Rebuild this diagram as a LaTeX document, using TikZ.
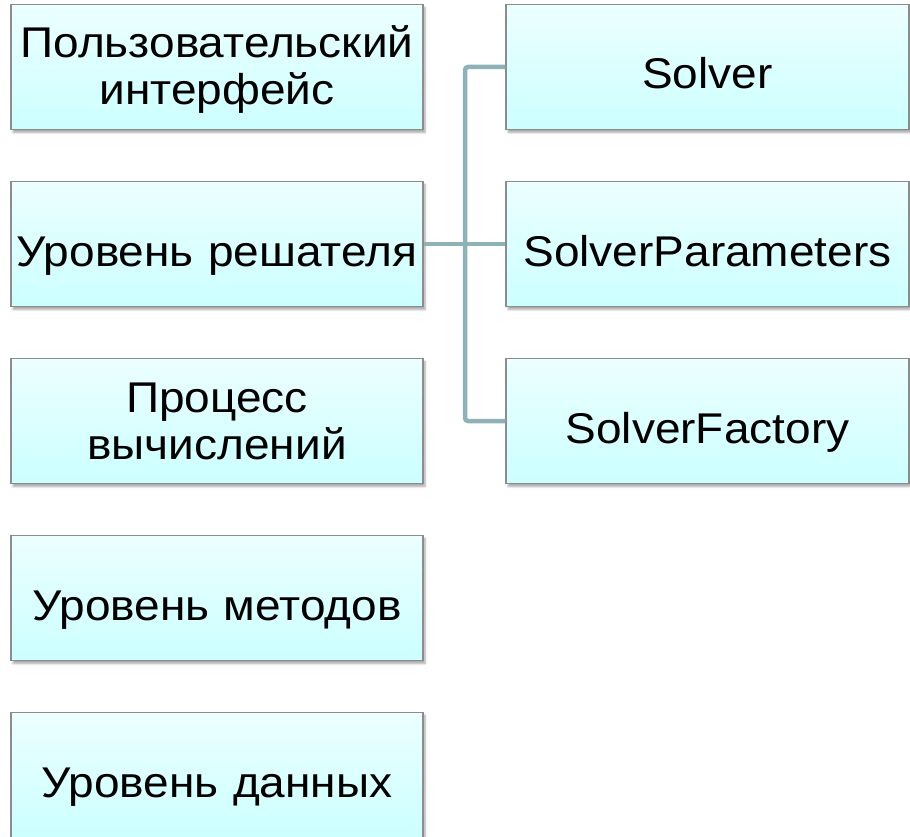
\documentclass[tikz,border=0pt]{standalone}
\usepackage{fontspec}
\setmainfont{Liberation Sans}
\newfontfamily\boxfont{Liberation Sans}[FakeStretch=1.07]
\usetikzlibrary{shadows.blur}
\definecolor{boxtop}{HTML}{ECFFFF}
\definecolor{boxbot}{HTML}{CCFFFF}
\definecolor{boxline}{HTML}{8C8C8C}
\definecolor{linkcol}{HTML}{8FB2B6}
\tikzset{
  x=1pt, y=-1pt,
  layer/.style={draw=boxline, line width=1.4pt, top color=boxtop, bottom color=boxbot,
    minimum width=412pt, minimum height=125pt, text width=410pt, align=center,
    inner sep=0pt, font=\boxfont\fontsize{43}{47}\selectfont,
    text height=44pt, text depth=0pt,
    blur shadow={shadow xshift=2pt, shadow yshift=-3pt, shadow blur steps=6, shadow opacity=35}},
  twoline/.style={text height=30pt, text depth=48pt},
  part/.style={layer, minimum width=403pt, text width=400pt},
  link/.style={draw=linkcol, line width=4.5pt, rounded corners=3pt}
}
\begin{document}
\begin{tikzpicture}
\useasboundingbox (0,0) rectangle (910,837);
% left column: layers of the system
\node[layer, twoline] (l1) at (217,67)  {Пользовательский\\интерфейс};
\node[layer] (l2) at (217,244) {Уровень решателя};
\node[layer, twoline] (l3) at (217,421) {Процесс\\вычислений};
\node[layer] (l4) at (217,598) {Уровень методов};
\node[layer] (l5) at (217,775) {Уровень данных};
% right column: parts of the solver level
\node[part] (r1) at (707.5,67)  {Solver};
\node[part] (r2) at (707.5,244) {SolverParameters};
\node[part] (r3) at (707.5,421) {SolverFactory};
% connectors
\coordinate (j) at (465,244);
\draw[link] (l2.east) -- (r2.west);
\draw[link] (r1.west) -| (j) |- (r3.west);
\end{tikzpicture}
\end{document}
